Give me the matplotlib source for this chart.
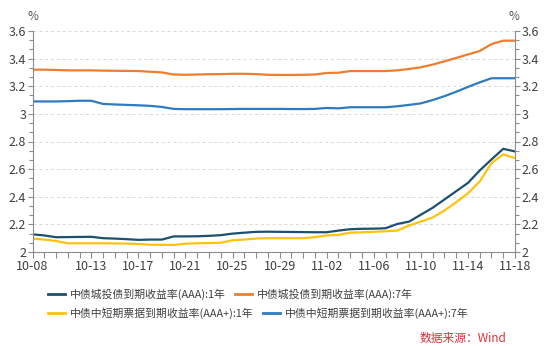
import matplotlib
matplotlib.use("Agg")
import matplotlib.pyplot as plt
import numpy as np
import pandas as pd
from matplotlib.lines import Line2D
from matplotlib.ticker import AutoMinorLocator, FormatStrFormatter

plt.rcParams["font.family"] = ["Noto Sans CJK SC", "DejaVu Sans"]

dates = pd.date_range("2020-10-08", "2020-11-18", freq="D")
labeled_days = ["10-08", "10-13", "10-17", "10-21", "10-25", "10-29",
                "11-02", "11-06", "11-10", "11-14", "11-18"]

city_1y = [2.128, 2.120, 2.107, 2.108, 2.109, 2.110, 2.100, 2.097, 2.093, 2.088,
           2.090, 2.090, 2.113, 2.113, 2.114, 2.117, 2.122, 2.133, 2.140, 2.146,
           2.147, 2.146, 2.145, 2.144, 2.143, 2.143, 2.155, 2.165, 2.168, 2.169,
           2.172, 2.203, 2.220, 2.270, 2.320, 2.380, 2.440, 2.500, 2.590, 2.670,
           2.747, 2.728]
city_7y = [3.320, 3.320, 3.318, 3.315, 3.315, 3.315, 3.313, 3.312, 3.311, 3.310,
           3.305, 3.300, 3.285, 3.283, 3.285, 3.287, 3.288, 3.290, 3.290, 3.288,
           3.283, 3.282, 3.282, 3.283, 3.285, 3.296, 3.298, 3.310, 3.310, 3.310,
           3.310, 3.315, 3.325, 3.337, 3.357, 3.380, 3.405, 3.430, 3.455, 3.505,
           3.530, 3.530]
note_1y = [2.097, 2.090, 2.080, 2.063, 2.063, 2.063, 2.063, 2.062, 2.061, 2.058,
           2.053, 2.052, 2.051, 2.060, 2.063, 2.065, 2.067, 2.085, 2.090, 2.098,
           2.100, 2.100, 2.100, 2.100, 2.108, 2.120, 2.124, 2.140, 2.143, 2.146,
           2.150, 2.155, 2.192, 2.220, 2.250, 2.300, 2.360, 2.425, 2.510, 2.643,
           2.707, 2.680]
note_7y = [3.090, 3.090, 3.090, 3.092, 3.095, 3.095, 3.072, 3.068, 3.065, 3.062,
           3.058, 3.050, 3.036, 3.034, 3.034, 3.034, 3.034, 3.035, 3.036, 3.036,
           3.036, 3.036, 3.035, 3.035, 3.036, 3.043, 3.040, 3.048, 3.048, 3.048,
           3.048, 3.055, 3.065, 3.076, 3.100, 3.128, 3.160, 3.195, 3.228, 3.258,
           3.258, 3.258]

series_names = ["中债城投债到期收益率(AAA):1年", "中债城投债到期收益率(AAA):7年",
                "中债中短期票据到期收益率(AAA+):1年", "中债中短期票据到期收益率(AAA+):7年"]
series_vals = [city_1y, city_7y, note_1y, note_7y]
colors = ["#1d4f6e", "#ed7d31", "#ffc20e", "#2e7bbf"]

W, H = 552, 346
fig = plt.figure(figsize=(W / 100, H / 100), dpi=100)
ax = fig.add_axes([32.5 / W, 1 - 252 / H, (515 - 32.5) / W, (252 - 31) / H])

x = np.arange(len(dates))
for vals, c in zip(series_vals, colors):
    ax.plot(x, vals, color=c, linewidth=1.6, solid_joinstyle="round")

ax.set_xlim(0, len(dates) - 1)
ax.set_ylim(2.0, 3.6)
ax.set_yticks(np.arange(2.0, 3.61, 0.2))
ax.yaxis.set_major_formatter(FormatStrFormatter("%g"))
ax.yaxis.set_minor_locator(AutoMinorLocator(3))
ax.grid(axis="y", color="#d9d9d9", linestyle=(0, (3, 3)), linewidth=0.7)
ax.set_axisbelow(True)

day_labels = [d.strftime("%m-%d") for d in dates]
ax.set_xticks(x)
ax.set_xticklabels([s if s in labeled_days else "" for s in day_labels])

for side in ["left", "right", "bottom"]:
    ax.spines[side].set_color("#8c8c8c")
    ax.spines[side].set_linewidth(0.8)
ax.spines["top"].set_visible(False)

ax.tick_params(axis="y", which="both", left=True, right=True, labelleft=True,
               labelright=True, color="#8c8c8c", width=0.8, labelsize=9,
               labelcolor="#404040", pad=1)
ax.tick_params(axis="y", which="major", length=3.5)
ax.tick_params(axis="y", which="minor", length=3)
ax.tick_params(axis="x", length=4, color="#8c8c8c", width=0.8, labelsize=9,
               labelcolor="#404040", pad=1.5)

fig.text(33 / W, 1 - 16 / H, "%", ha="center", va="center", fontsize=8.5, color="#595959")
fig.text(514 / W, 1 - 16 / H, "%", ha="center", va="center", fontsize=8.5, color="#595959")

# legend, laid out by hand like the original
legend_pos = [(48, 294), (235, 294), (48, 313), (263, 313)]
for (lx, ly), name, c in zip(legend_pos, series_names, colors):
    fig.add_artist(Line2D([lx / W, (lx + 17) / W], [1 - ly / H, 1 - ly / H],
                          color=c, linewidth=2))
    fig.text((lx + 22) / W, 1 - ly / H, name, ha="left", va="center",
             fontsize=7.8, color="#404040")

fig.text(506 / W, 1 - 338 / H, "数据来源：Wind", ha="right", va="center",
         fontsize=8.5, color="#e0303a")

fig.savefig("out.png", dpi=100)
